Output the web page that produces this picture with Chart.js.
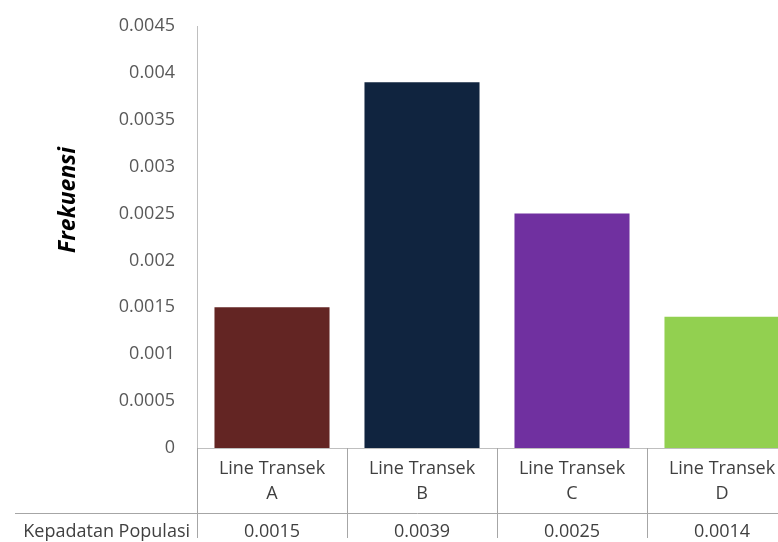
<!DOCTYPE html>
<html>
<head>
<meta charset="utf-8">
<script src="https://cdn.jsdelivr.net/npm/chart.js@4/dist/chart.umd.min.js"></script>
<style>
  html, body { margin: 0; padding: 0; background: #ffffff; overflow: hidden; width: 778px; height: 542px; }
  #wrap { position: absolute; left: 0; top: 0; width: 820px; height: 542px; }
</style>
</head>
<body>
<div id="wrap"><canvas id="c" width="820" height="542"></canvas></div>
<script>
const categories = [["Line Transek", "A"], ["Line Transek", "B"], ["Line Transek", "C"], ["Line Transek", "D"]];
const frekuensi = [0.0015, 0.0039, 0.0025, 0.0014];
const kepadatanPopulasi = [0.0015, 0.0039, 0.0025, 0.0014];
const tableRowLabel = "Kepadatan Populasi";
const yAxisTitle = "Frekuensi";
const barColors = ["#632523", "#10243F", "#7030A0", "#92D050"];

const FONT = "'Open Sans', 'DejaVu Sans', sans-serif";

const dataTablePlugin = {
  id: "dataTable",
  afterDraw(chart) {
    const ctx = chart.ctx;
    const x = chart.scales.x;
    const area = chart.chartArea;
    const n = categories.length;
    const half = (x.getPixelForValue(1) - x.getPixelForValue(0)) / 2;
    const rowY = 513;
    ctx.save();
    ctx.strokeStyle = "#A6A6A6";
    ctx.lineWidth = 1;
    for (let i = 0; i <= n; i++) {
      const px = Math.round(x.getPixelForValue(i) - half) + 0.5;
      ctx.beginPath();
      ctx.moveTo(px, area.bottom);
      ctx.lineTo(px, 538);
      ctx.stroke();
    }
    ctx.beginPath();
    ctx.moveTo(15, rowY + 0.5);
    ctx.lineTo(chart.width, rowY + 0.5);
    ctx.stroke();
    ctx.fillStyle = "#404040";
    ctx.font = "18px " + FONT;
    ctx.textBaseline = "middle";
    ctx.textAlign = "right";
    ctx.fillText(tableRowLabel, 190, 532);
    ctx.textAlign = "center";
    kepadatanPopulasi.forEach((v, i) => {
      ctx.fillText(String(v), x.getPixelForValue(i), 532);
    });
    // y-axis title
    ctx.save();
    ctx.translate(68, 200);
    ctx.rotate(-Math.PI / 2);
    ctx.fillStyle = "#000000";
    ctx.font = "italic bold 23px " + FONT;
    ctx.textAlign = "center";
    ctx.textBaseline = "middle";
    ctx.fillText(yAxisTitle, 0, 0);
    ctx.restore();
    ctx.restore();
  }
};

new Chart(document.getElementById("c"), {
  type: "bar",
  data: {
    labels: categories,
    datasets: [{
      data: frekuensi,
      backgroundColor: barColors,
      borderWidth: 0,
      barPercentage: 0.767,
      categoryPercentage: 1.0
    }]
  },
  options: {
    responsive: false,
    animation: false,
    layout: { padding: { top: 26, right: 23, left: 0, bottom: 0 } },
    plugins: { legend: { display: false }, tooltip: { enabled: false } },
    scales: {
      x: {
        grid: { display: false, drawTicks: false },
        border: { display: true, color: "#BFBFBF", width: 1 },
        ticks: {
          color: "#404040",
          font: { family: FONT, size: 18, lineHeight: 1.4 },
          padding: 8,
          maxRotation: 0,
          autoSkip: false
        },
        afterFit(scale) { scale.height = 94; scale.paddingLeft = 0; scale.paddingRight = 0; }
      },
      y: {
        min: 0,
        max: 0.0045,
        grid: { display: false, drawTicks: false },
        border: { display: true, color: "#BFBFBF", width: 1 },
        ticks: {
          stepSize: 0.0005,
          color: "#595959",
          font: { family: FONT, size: 18 },
          padding: 22,
          callback: (v) => String(Number(Number(v).toPrecision(6)))
        },
        title: { display: false },
        afterFit(scale) { scale.width = 197; scale.paddingTop = 0; scale.paddingBottom = 0; }
      }
    }
  },
  plugins: [dataTablePlugin]
});
</script>
</body>
</html>
